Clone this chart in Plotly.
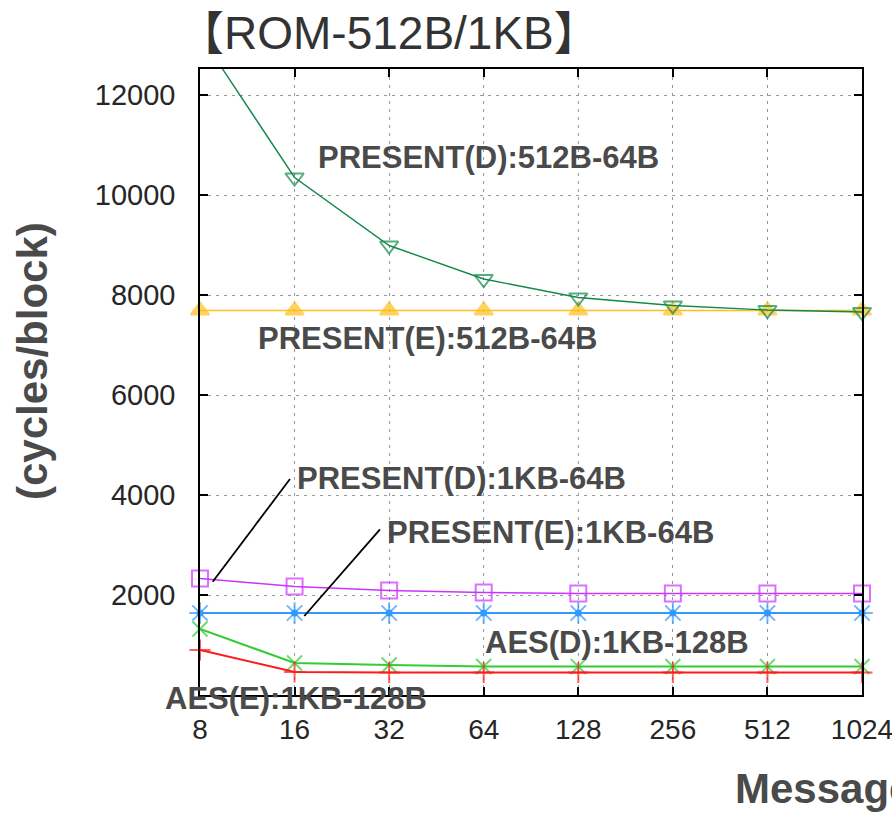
import math
import plotly.graph_objects as go

# Message sizes (bytes) on the x axis
msg_sizes = [8, 16, 32, 64, 128, 256, 512, 1024]
x_tick_labels = ["8", "16", "32", "64", "128", "256", "512", "1024"]
y_tick_vals = [2000, 4000, 6000, 8000, 10000, 12000]
y_tick_labels = ["2000", "4000", "6000", "8000", "10000", "12000"]

# Cycles per block for each implementation
present_d_512b = [13200, 10350, 8990, 8320, 7950, 7790, 7700, 7660]
present_e_512b = [7690, 7690, 7690, 7690, 7690, 7690, 7690, 7690]
present_d_1kb = [2330, 2170, 2090, 2050, 2030, 2030, 2030, 2030]
present_e_1kb = [1640, 1640, 1640, 1640, 1640, 1640, 1640, 1640]
aes_d_1kb = [1320, 640, 600, 570, 570, 570, 570, 570]
aes_e_1kb = [900, 460, 450, 450, 450, 450, 450, 450]

W, H = 892, 813
L, R, T, B = 200, 30, 69, 118
PW, PH = W - L - R, H - T - B


def px(x):
    return (x - L) / PW


def py(y):
    return (H - B - y) / PH


fig = go.Figure()

series = [
    (present_e_512b, "#ffbf1f", "triangle-up", 16, 1.6),
    (present_d_512b, "#12894a", "triangle-down-open", 16, 1.4),
    (present_d_1kb, "#cc33ff", "square-open", 16, 1.6),
    (present_e_1kb, "#3399ff", "asterisk-open", 18, 2.0),
    (aes_d_1kb, "#33cc33", "x-thin-open", 15, 2.0),
    (aes_e_1kb, "#ff1a1a", "cross-thin-open", 15, 2.0),
]
for vals, col, sym, size, lw in series:
    sizes = [size] * len(vals)
    if vals is present_d_512b:
        sizes[0] = 0  # first point lies above the visible range
    fig.add_trace(go.Scatter(
        x=msg_sizes, y=vals, mode="lines+markers",
        line=dict(color=col, width=lw),
        marker=dict(symbol=sym, size=sizes, color=col,
                    line=dict(color=col, width=2)),
        cliponaxis=False, showlegend=False,
    ))
# filled centre of the asterisk markers
fig.add_trace(go.Scatter(
    x=msg_sizes, y=present_e_1kb, mode="markers",
    marker=dict(symbol="circle", size=7, color="#3399ff"),
    cliponaxis=False, showlegend=False,
))

axis_common = dict(
    showline=True, linecolor="black", linewidth=1.5, mirror="ticks",
    ticks="inside", ticklen=8, tickwidth=1.5, tickcolor="black",
    showgrid=True, gridcolor="#9a9a9a", griddash="3px,5px", gridwidth=1.2,
    zeroline=False, ticklabeloverflow="allow", automargin=False,
)
x_lo = math.log10(msg_sizes[0]) - 1e-6
x_hi = math.log10(msg_sizes[-1]) + 1e-6
fig.update_xaxes(type="log", range=[x_lo, x_hi], tickvals=msg_sizes,
                 ticktext=x_tick_labels, ticklabelstandoff=9,
                 tickfont=dict(family="Liberation Sans, Arial", size=28,
                               color="#262626"),
                 **axis_common)
fig.update_yaxes(range=[0, 12520], tickvals=y_tick_vals,
                 ticktext=y_tick_labels, ticklabelstandoff=17,
                 tickfont=dict(family="Liberation Sans, Arial", size=29,
                               color="#262626"),
                 **axis_common)

lab_font = dict(family="Liberation Sans, Arial", size=31, color="#4a4a4a",
                weight="bold")
labels = [
    ("PRESENT(D):512B-64B", 316, 157.5),
    ("PRESENT(E):512B-64B", 256, 338),
    ("PRESENT(D):1KB-64B", 295, 478),
    ("PRESENT(E):1KB-64B", 385, 532.5),
    ("AES(D):1KB-128B", 483, 642.5),
    ("AES(E):1KB-128B", 163, 698.5),
]
for txt, lx, ly in labels:
    fig.add_annotation(text=txt, xref="paper", yref="paper",
                       x=px(lx), y=py(ly), xanchor="left", yanchor="middle",
                       showarrow=False, font=lab_font)

# leader lines from labels to curves
for x0, y0, x1, y1 in [(290, 479, 212.7, 581.7), (380, 529.3, 304.3, 616)]:
    fig.add_shape(type="line", xref="paper", yref="paper",
                  x0=px(x0), y0=py(y0), x1=px(x1), y1=py(y1),
                  line=dict(color="black", width=1.8))

# chart title
fig.add_annotation(text="【ROM-512B/1KB】", xref="paper", yref="paper",
                   x=px(176), y=py(32.5), xanchor="left", yanchor="middle",
                   showarrow=False,
                   font=dict(family="Liberation Sans, Arial, Noto Sans CJK JP",
                             size=46, color="#333333"))
# axis titles
fig.add_annotation(text="(cycles/block)", xref="paper", yref="paper",
                   x=px(33), y=py(361), xanchor="center", yanchor="middle",
                   textangle=-90, showarrow=False,
                   font=dict(family="Liberation Sans, Arial", size=42,
                             color="#4a4a4a", weight="bold"))
fig.add_annotation(text="Message size (bytes)", xref="paper", yref="paper",
                   x=px(733), y=py(788), xanchor="left", yanchor="middle",
                   showarrow=False,
                   font=dict(family="Liberation Sans, Arial", size=42,
                             color="#4a4a4a", weight="bold"))

fig.update_layout(
    width=W, height=H,
    margin=dict(l=L, r=R, t=T, b=B, autoexpand=False),
    paper_bgcolor="white", plot_bgcolor="white",
)

fig.write_html("out.html")
